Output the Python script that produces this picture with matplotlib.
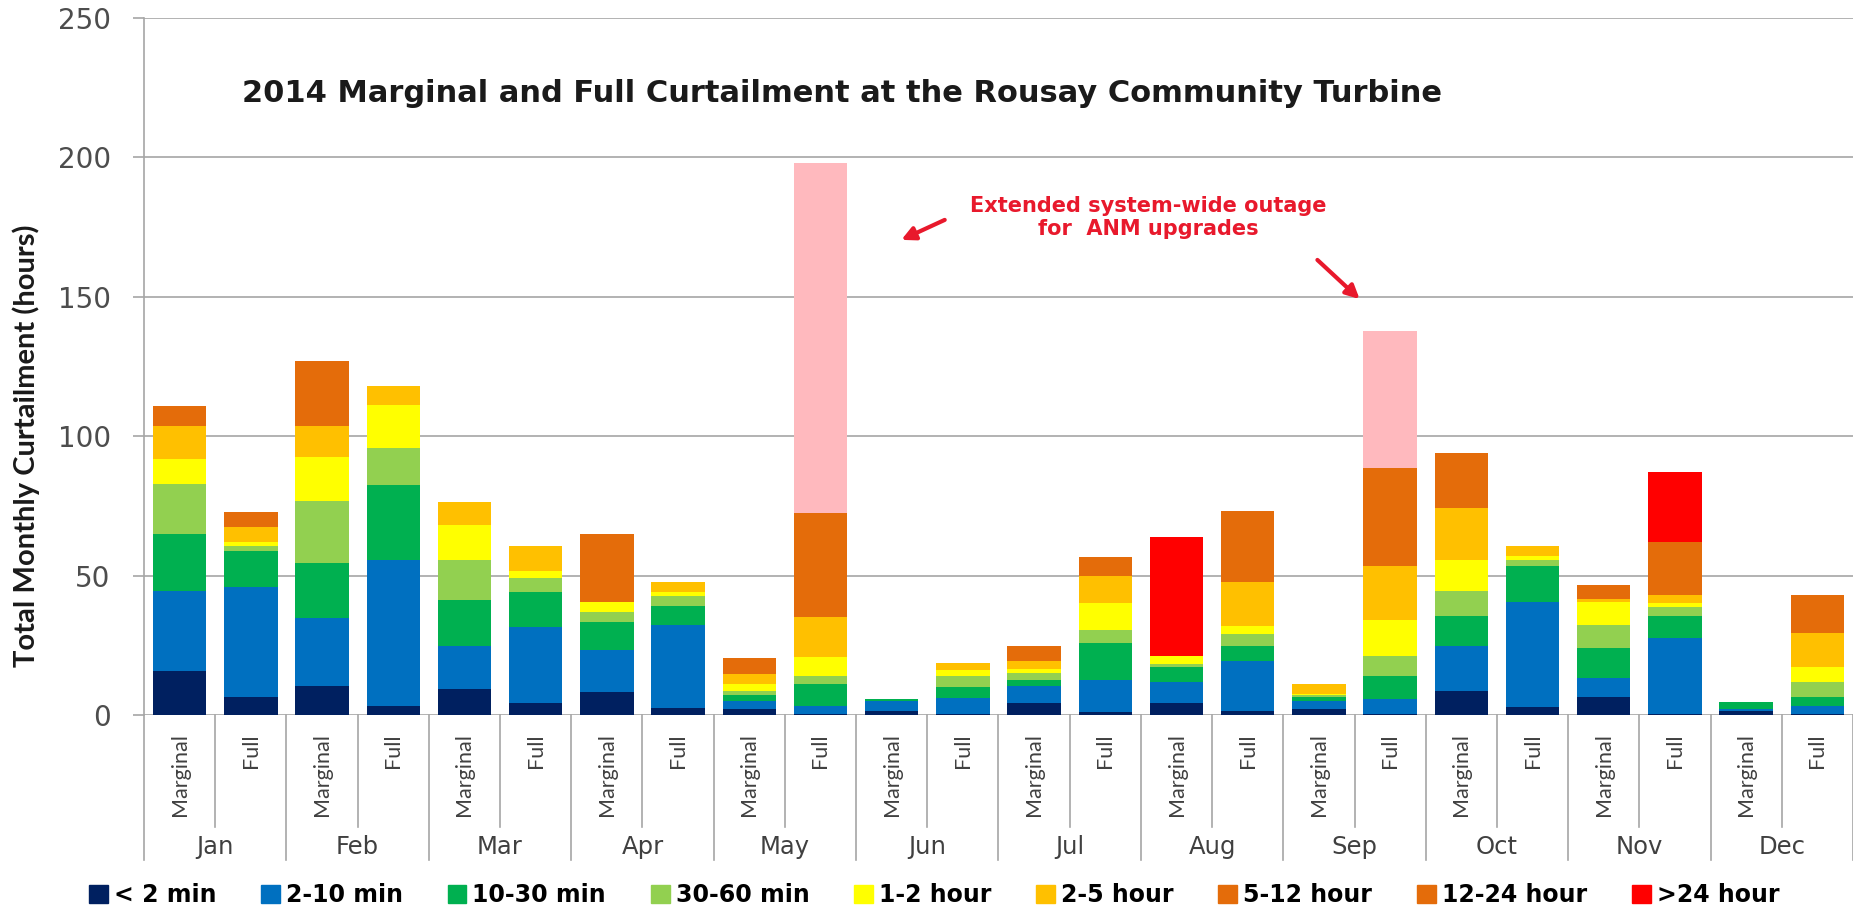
import matplotlib.pyplot as plt
from matplotlib.patches import Patch
import numpy as np

plt.rcParams['font.family'] = ['DejaVu Sans']

months = ["Jan", "Feb", "Mar", "Apr", "May", "Jun",
          "Jul", "Aug", "Sep", "Oct", "Nov", "Dec"]
kinds = ["Marginal", "Full"]
categories = ["< 2 min", "2-10 min", "10-30 min", "30-60 min", "1-2 hour",
              "2-5 hour", "5-12 hour", "12-24 hour", ">24 hour"]
colors = ["#002060", "#0070C0", "#00B050", "#92D050", "#FFFF00",
          "#FFC000", "#E46C0A", "#E46C0A", "#FF0000"]
outage_color = "#FFB9BE"

# hours per bar, order: Jan Marginal, Jan Full, Feb Marginal, Feb Full, ...
lt_2min = [15.7, 6.3, 10.5, 3.1, 9.3, 4.2, 8.1, 2.5, 2.0, 0.5, 1.5, 0.4,
           4.2, 1.2, 4.3, 1.6, 2.2, 0.3, 8.7, 2.7, 6.3, 0.5, 1.6, 0.3]
min_2_10 = [28.9, 39.5, 24.3, 52.5, 15.6, 27.2, 15.3, 29.9, 3.1, 2.8, 3.6, 5.6,
            6.3, 11.5, 7.4, 17.6, 2.9, 5.4, 16.2, 38.0, 7.0, 27.1, 0.4, 2.8]
min_10_30 = [20.5, 13.1, 19.6, 26.8, 16.3, 12.6, 10.1, 6.8, 2.1, 7.8, 0.6, 3.9,
             2.0, 13.1, 5.4, 5.7, 1.2, 8.4, 10.5, 12.8, 10.7, 8.0, 2.8, 3.5]
min_30_60 = [17.9, 1.6, 22.2, 13.2, 14.4, 5.3, 3.5, 3.6, 1.5, 3.0, 0.0, 4.2,
             2.6, 4.8, 1.2, 4.1, 0.9, 7.2, 9.2, 2.1, 8.4, 3.0, 0.0, 5.3]
hr_1_2 = [8.8, 1.6, 16.0, 15.5, 12.5, 2.4, 3.6, 1.4, 2.4, 6.6, 0.0, 2.1,
          1.4, 9.4, 3.0, 3.0, 0.3, 12.9, 11.1, 1.5, 8.0, 1.4, 0.0, 5.2]
hr_2_5 = [11.7, 5.2, 10.9, 6.8, 8.4, 9.0, 0.0, 3.4, 3.6, 14.3, 0.0, 2.3,
          3.0, 9.7, 0.0, 15.8, 3.6, 19.3, 18.4, 3.6, 1.1, 3.1, 0.0, 12.2]
hr_5_12 = [7.5, 5.6, 23.4, 0.0, 0.0, 0.0, 24.3, 0.0, 5.8, 37.4, 0.0, 0.0,
           5.4, 6.8, 0.0, 25.2, 0.0, 35.0, 20.0, 0.0, 5.1, 19.1, 0.0, 13.8]
hr_12_24 = [0.0] * 24
hr_over_24 = [0.0, 0.0, 0.0, 0.0, 0.0, 0.0, 0.0, 0.0, 0.0, 0.0, 0.0, 0.0,
              0.0, 0.0, 42.4, 0.0, 0.0, 0.0, 0.0, 0.0, 0.0, 24.8, 0.0, 0.0]
# extended system-wide outage for ANM upgrades
outage = [0.0, 0.0, 0.0, 0.0, 0.0, 0.0, 0.0, 0.0, 0.0, 125.6, 0.0, 0.0,
          0.0, 0.0, 0.0, 0.0, 0.0, 49.3, 0.0, 0.0, 0.0, 0.0, 0.0, 0.0]

series = [lt_2min, min_2_10, min_10_30, min_30_60, hr_1_2,
          hr_2_5, hr_5_12, hr_12_24, hr_over_24]

fig = plt.figure(figsize=(18.53, 9.07), dpi=100)
ax = fig.add_axes([144 / 1853, 192 / 907, 1 - 144 / 1853, 697 / 907])

x = np.arange(len(months) * len(kinds))
bottom = np.zeros(len(x))
for vals, col in zip(series, colors):
    ax.bar(x, vals, 0.75, bottom=bottom, color=col, zorder=3)
    bottom += np.array(vals)
ax.bar(x, outage, 0.75, bottom=bottom, color=outage_color, zorder=3)

ax.set_xlim(-0.5, len(x) - 0.5)
ax.set_ylim(0, 250)
ax.set_yticks(np.arange(0, 251, 50))
ax.yaxis.grid(True, color="#A6A6A6", lw=1.2, zorder=0)
for s in ["top", "right", "bottom"]:
    ax.spines[s].set_visible(False)
ax.spines["left"].set_color("#A6A6A6")
ax.spines["left"].set_linewidth(1.2)
ax.tick_params(axis="y", length=8, width=1.2, color="#A6A6A6", pad=16,
               labelsize=20, labelcolor="#4D4D4D")

ax.set_xticks(x)
ax.set_xticklabels(kinds * len(months), rotation=90, fontsize=15.5,
                   color="#404040", family=["Lato", "DejaVu Sans"])
ax.tick_params(axis="x", length=0, pad=13)

trans = ax.get_xaxis_transform()
for i in range(len(x) + 1):
    xs = i - 0.5
    low = -0.208 if i % 2 == 0 else -0.161
    ax.plot([xs, xs], [0, low], transform=trans, clip_on=False,
            color="#A6A6A6", lw=1.2)
for m, name in enumerate(months):
    ax.text(2 * m + 0.5, -0.19, name, transform=trans, ha="center",
            va="center", fontsize=17.5, color="#404040")

ax.text(9.3, 219.8,
        "2014 Marginal and Full Curtailment at the Rousay Community Turbine",
        ha="center", va="baseline", fontsize=22, fontweight="bold",
        color="#1A1A1A")

red = "#E8192C"
ax.text(13.6, 178.3, "Extended system-wide outage\nfor  ANM upgrades",
        ha="center", va="center", fontsize=15, fontweight="bold",
        color=red, linespacing=1.2)
ax.annotate("", xy=(10.1, 170.0), xytext=(10.78, 178.0),
            arrowprops=dict(arrowstyle="-|>", color=red, lw=3,
                            mutation_scale=20))
ax.annotate("", xy=(16.6, 148.5), xytext=(15.95, 163.9),
            arrowprops=dict(arrowstyle="-|>", color=red, lw=3,
                            mutation_scale=20))

fig.text(26 / 1853, 1 - 446 / 907, "Total Monthly Curtailment (hours)",
         rotation=90, ha="center", va="center", fontsize=21,
         fontweight="bold", family=["Lato", "DejaVu Sans"], color="#1A1A1A")

handles = [Patch(color=c) for c in colors]
fig.legend(handles, categories, loc="center", bbox_to_anchor=(0.504, 0.013),
           ncol=9, frameon=False, handlelength=0.8, handleheight=0.8,
           handletextpad=0.25, columnspacing=1.9, borderpad=0,
           prop={"size": 17, "weight": "bold"})

fig.savefig("out.png", dpi=100)
